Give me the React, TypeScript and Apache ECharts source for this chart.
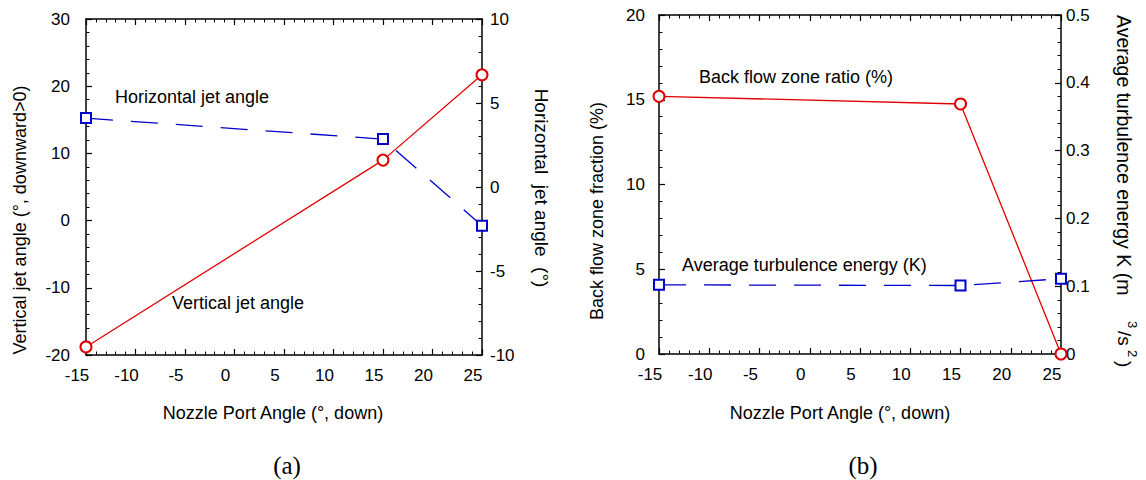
import React, { useEffect, useRef } from "react";
import * as echarts from "echarts";

// ---- data ----
const portAngles = [-15, 15, 25];
const verticalJetAngle = [-18.8, 9.0, 21.7];
const horizontalJetAngle = [4.1, 2.85, -2.3];
const backFlowRatio = [15.2, 14.75, 0];
const turbulenceK = [0.102, 0.101, 0.111];

const xTitle = "Nozzle Port Angle (°, down)";
const leftYTitleA = "Vertical jet angle (°, downward>0)";
const rightYTitleA = "Horizontal  jet angle  (°)";
const leftYTitleB = "Back flow zone fraction (%)";
const rightYTitleB = "Average turbulence energy K (m";

const FONT = "'Liberation Sans', Arial, Helvetica, sans-serif";
const SERIF = "'Liberation Serif', 'Times New Roman', serif";
const RED = "#e00000";
const BLUE = "#0000cc";

const zip = (xs: number[], ys: number[]) => xs.map((x, i) => [x, ys[i]]);

function axisBase(extra: any) {
  return {
    type: "value",
    splitLine: { show: false },
    axisLine: { show: true, onZero: false, lineStyle: { color: "#000", width: 1.5 } },
    axisTick: { show: true, inside: true, length: 6, lineStyle: { color: "#000", width: 1.2 } },
    minorTick: { show: true, splitNumber: 5, length: 3.5, lineStyle: { color: "#000", width: 1 } },
    ...extra,
    axisLabel: { color: "#000", fontSize: 17, fontFamily: FONT, ...(extra.axisLabel || {}) },
  };
}

function txt(text: string, x: number, y: number, opts: any = {}) {
  const align = opts.align || "left";
  const valign = opts.valign || "middle";
  return {
    type: "text",
    x,
    y,
    rotation: opts.rotation || 0,
    silent: true,
    style: {
      text,
      fill: "#000",
      fontSize: opts.fontSize || 18,
      fontFamily: opts.fontFamily || FONT,
      align,
      textAlign: align,
      verticalAlign: valign,
      textVerticalAlign: valign,
    },
  };
}

export default function App() {
  const ref = useRef<HTMLDivElement>(null);
  useEffect(() => {
    if (!ref.current) return;
    const chart = echarts.init(ref.current, null, { renderer: "svg" });
    const xLabelPad = { margin: 12, padding: [0, 18, 0, 0] };
    const option: any = {
      animation: false,
      backgroundColor: "#fff",
      grid: [
        { left: 86, top: 19, width: 396, height: 336 },
        { left: 659, top: 15, width: 402, height: 339 },
      ],
      xAxis: [
        axisBase({ gridIndex: 0, position: "bottom", min: -15, max: 25, interval: 5, axisLabel: xLabelPad }),
        axisBase({ gridIndex: 0, position: "top", min: -15, max: 25, interval: 5, axisLabel: { show: false } }),
        axisBase({ gridIndex: 1, position: "bottom", min: -15, max: 25, interval: 5, axisLabel: xLabelPad }),
        axisBase({ gridIndex: 1, position: "top", min: -15, max: 25, interval: 5, axisLabel: { show: false } }),
      ],
      yAxis: [
        axisBase({ gridIndex: 0, position: "left", min: -20, max: 30, interval: 10, axisLabel: { margin: 16 } }),
        axisBase({ gridIndex: 0, position: "right", min: -10, max: 10, interval: 5, axisLabel: { margin: 8 } }),
        axisBase({ gridIndex: 1, position: "left", min: 0, max: 20, interval: 5, axisLabel: { margin: 14 } }),
        axisBase({ gridIndex: 1, position: "right", min: 0, max: 0.5, interval: 0.1, axisLabel: { margin: 5 } }),
      ],
      series: [
        {
          name: "Vertical jet angle",
          type: "line",
          xAxisIndex: 0,
          yAxisIndex: 0,
          data: zip(portAngles, verticalJetAngle),
          symbol: "emptyCircle",
          symbolSize: 11,
          clip: false,
          lineStyle: { color: RED, width: 1.3 },
          itemStyle: { color: RED, borderColor: RED, borderWidth: 1.3 },
        },
        {
          name: "Horizontal jet angle",
          type: "line",
          xAxisIndex: 0,
          yAxisIndex: 1,
          data: zip(portAngles, horizontalJetAngle),
          symbol: "emptyRect",
          symbolSize: 10,
          clip: false,
          lineStyle: { color: BLUE, width: 1.3, type: [27, 18] },
          itemStyle: { color: BLUE, borderColor: BLUE, borderWidth: 1.3 },
        },
        {
          name: "Back flow zone ratio (%)",
          type: "line",
          xAxisIndex: 2,
          yAxisIndex: 2,
          data: zip(portAngles, backFlowRatio),
          symbol: "emptyCircle",
          symbolSize: 11,
          clip: false,
          lineStyle: { color: RED, width: 1.3 },
          itemStyle: { color: RED, borderColor: RED, borderWidth: 1.3 },
        },
        {
          name: "Average turbulence energy (K)",
          type: "line",
          xAxisIndex: 2,
          yAxisIndex: 3,
          data: zip(portAngles, turbulenceK),
          symbol: "emptyRect",
          symbolSize: 10,
          clip: false,
          lineStyle: { color: BLUE, width: 1.3, type: [27, 18] },
          itemStyle: { color: BLUE, borderColor: BLUE, borderWidth: 1.3 },
        },
      ],
      graphic: [
        // chart (a)
        txt("Horizontal jet angle", 115, 97),
        txt("Vertical jet angle", 172, 303),
        txt(xTitle, 273, 413, { align: "center" }),
        txt(leftYTitleA, 20, 220, { align: "center", rotation: Math.PI / 2 }),
        txt(rightYTitleA, 541, 188, { align: "center", rotation: -Math.PI / 2, fontSize: 19 }),
        txt("(a)", 287, 465, { align: "center", fontSize: 25, fontFamily: SERIF }),
        // chart (b)
        txt("Back flow zone ratio (%)", 699, 77),
        txt("Average turbulence energy (K)", 682, 265),
        txt(xTitle, 840, 413, { align: "center" }),
        txt(leftYTitleB, 597, 211, { align: "center", rotation: Math.PI / 2 }),
        {
          type: "group",
          x: 1124,
          y: 15,
          rotation: -Math.PI / 2,
          children: [
            txt(rightYTitleB, 0, 0, { fontSize: 19.5 }),
            txt("3", 306, -8, { fontSize: 13 }),
            txt("/s", 316, 0, { fontSize: 19 }),
            txt("2", 335, -8, { fontSize: 13 }),
            txt(")", 346, 0, { fontSize: 19 }),
          ],
        },
        txt("(b)", 863, 465, { align: "center", fontSize: 25, fontFamily: SERIF }),
      ],
    };
    chart.setOption(option);
    return () => chart.dispose();
  }, []);
  return (
    <div
      ref={ref}
      style={{ position: "absolute", left: 0, top: 0, width: 1146, height: 480, background: "#fff" }}
    />
  );
}
